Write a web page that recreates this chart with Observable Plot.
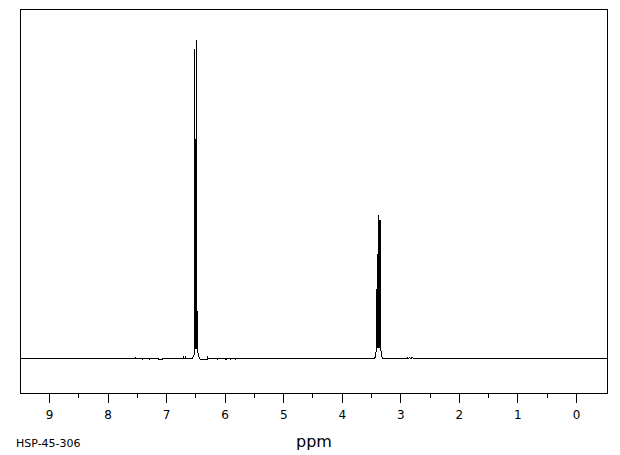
<!DOCTYPE html>
<html>
<head>
<meta charset="utf-8">
<script src="https://cdn.jsdelivr.net/npm/d3@7"></script>
<script src="https://cdn.jsdelivr.net/npm/@observablehq/plot@0.6"></script>
<style>
  html, body { margin: 0; padding: 0; background: #fff; }
  #wrap { position: relative; width: 620px; height: 455px; background: #fff; }
  #code { position: absolute; left: 16px; top: 437px; font: 11px "DejaVu Sans", sans-serif; color: #000; }
</style>
</head>
<body>
<div id="wrap"><div id="code"></div></div>
<script>
// Spectrum trace (chemical shift in ppm, relative intensity)
const shiftPpm = [
  9.50, 7.535, 7.527, 7.519, 7.42, 7.415, 7.41, 7.30, 7.295, 7.29,
  7.14, 7.135, 7.07, 7.065, 6.71, 6.706, 6.70, 6.676, 6.672, 6.666,
  6.56, 6.545, 6.530, 6.522, 6.518, 6.515, 6.511, 6.507, 6.503, 6.499,
  6.495, 6.491, 6.487, 6.484, 6.480, 6.470, 6.460, 6.445, 6.435, 6.42,
  6.31, 6.305, 6.30, 6.295, 6.13, 6.125, 6.12, 5.99, 5.985, 5.98,
  5.91, 5.905, 5.90, 5.82, 5.815, 5.81, 3.45, 3.432, 3.415, 3.401,
  3.397, 3.392, 3.388, 3.384, 3.379, 3.373, 3.367, 3.361, 3.357, 3.352,
  3.344, 3.330, 3.313, 2.90, 2.89, 2.88, 2.85, 2.84, 2.80, 2.79,
  -0.53
];
const intensity = [
  0, 0, 0.4, 0, 0, -0.3, 0, 0, -0.3, 0,
  0, -0.3, -0.3, 0, 0, 0.7, 0, 0, 0.7, 0,
  0, 0.6, 1.2, 2.0, 97.2, 3.0, 69.0, 3.0, 69.0, 3.0,
  69.0, 3.0, 69.0, 100.0, 3.4, 2.6, 1.2, 0.3, 0, -0.3,
  -0.3, 0, 0.6, 0, 0, -0.3, 0, 0, -0.3, 0,
  0, -0.3, 0, 0, -0.3, 0, 0, 0.6, 3.5, 32.7,
  3.5, 32.7, 3.5, 45.0, 3.5, 32.7, 3.5, 43.4, 3.5, 43.4,
  3.5, 1.0, 0, 0, 0.3, 0, 0.3, 0, 0.3, 0,
  0
];
const majorTicks = [9, 8, 7, 6, 5, 4, 3, 2, 1, 0];
const minorTicks = [8.5, 7.5, 6.5, 5.5, 4.5, 3.5, 2.5, 1.5, 0.5];
const axisTitle = "ppm";
const sampleCode = "HSP-45-306";

const spectrum = shiftPpm.map((p, i) => ({ppm: p, value: intensity[i]}));

const chart = Plot.plot({
  width: 620,
  height: 455,
  marginLeft: 20,
  marginRight: 13,
  marginTop: 9,
  marginBottom: 62,
  style: {fontFamily: "'DejaVu Sans', sans-serif", background: "#fff", color: "#000"},
  x: {domain: [9.495, -0.53]},
  y: {domain: [-11.0, 109.75], axis: null},
  marks: [
    Plot.frame({stroke: "#000", strokeWidth: 1, shapeRendering: "crispEdges"}),
    Plot.axisX({ticks: minorTicks, tickSize: 5, tickFormat: () => "", label: null, stroke: "#000", shapeRendering: "crispEdges"}),
    Plot.axisX({ticks: majorTicks, tickSize: 10, tickPadding: 7, fontSize: 12, tickFormat: d => String(d), label: null, stroke: "#000", fill: "#000", shapeRendering: "crispEdges"}),
    Plot.line(spectrum, {x: "ppm", y: "value", stroke: "#000", strokeWidth: 1, shapeRendering: "crispEdges"}),
    Plot.text([axisTitle], {frameAnchor: "bottom", dy: 48, fontSize: 16, lineAnchor: "middle", fill: "#000"})
  ]
});
document.getElementById("wrap").prepend(chart);
document.getElementById("code").textContent = sampleCode;
</script>
</body>
</html>
